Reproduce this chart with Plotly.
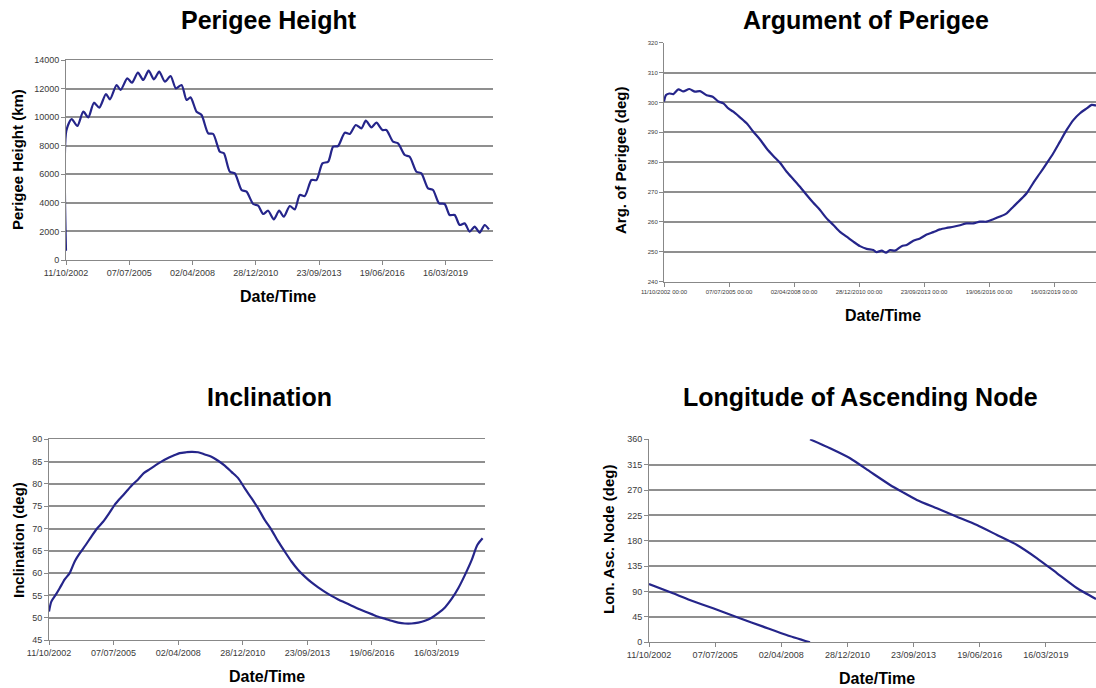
import pandas as pd
import plotly.graph_objects as go

BASE = "2002-10-11"  # day offsets below are counted from this date

# ---- Perigee Height (km) ----
ph_days = [0, 5, 90, 179, 274, 353, 442, 526, 632, 695, 800, 863, 969, 1042, 1137, 1221,
           1306, 1390, 1474, 1564, 1653, 1737, 1827, 1906, 1969, 2064, 2143, 2248, 2327,
           2432, 2496, 2590, 2669, 2775, 2854, 2959, 3038, 3117, 3196, 3285, 3370, 3443,
           3538, 3617, 3696, 3775, 3880, 3959, 4054, 4144, 4223, 4301, 4407, 4486, 4581,
           4670, 4739, 4828, 4907, 5002, 5065, 5170, 5249, 5355, 5433, 5539, 5618, 5723,
           5802, 5897, 5986, 6065, 6144, 6223, 6302, 6381, 6460, 6539, 6618, 6686]
ph_vals = [650, 9050, 9870, 9380, 10380, 9985, 11010, 10660, 11620, 11245, 12250, 11900,
           12715, 12410, 13110, 12600, 13250, 12645, 13180, 12480, 12880, 12015, 12250,
           11200, 11385, 10380, 10150, 8865, 8820, 7580, 7465, 6180, 6065, 4900, 4780,
           3920, 3800, 3220, 3450, 2845, 3450, 3030, 3780, 3545, 4550, 4480, 5600, 5600,
           6765, 6880, 7930, 7980, 8910, 8820, 9450, 9215, 9750, 9285, 9610, 9100, 9100,
           8280, 8165, 7350, 7230, 6180, 6065, 5015, 4900, 3965, 3920, 3150, 3150, 2450,
           2565, 1985, 2335, 1915, 2450, 2145]

# ---- Argument of Perigee (deg) ----
ap_days = [0, 31, 82, 144, 221, 297, 390, 477, 554, 656, 749, 836, 913, 990, 1067, 1169,
           1272, 1374, 1477, 1579, 1682, 1785, 1887, 1990, 2092, 2195, 2297, 2400, 2502,
           2605, 2708, 2810, 2913, 3015, 3118, 3220, 3272, 3349, 3415, 3477, 3554, 3656,
           3733, 3836, 3938, 4041, 4143, 4246, 4349, 4451, 4554, 4656, 4759, 4861, 4964,
           5066, 5169, 5272, 5374, 5477, 5579, 5682, 5784, 5887, 5989, 6092, 6195, 6297,
           6400, 6502, 6579, 6646, 6690]
ap_vals = [300.3, 302.5, 303.0, 302.8, 304.4, 303.7, 304.5, 303.6, 303.8, 302.4, 301.9,
           300.3, 299.7, 298.0, 296.9, 295.0, 293.0, 290.2, 287.6, 284.6, 282.1, 279.8,
           276.8, 274.3, 271.8, 269.0, 266.4, 264.0, 261.2, 259.0, 256.7, 255.1, 253.4,
           251.9, 251.0, 250.6, 249.9, 250.4, 249.7, 250.6, 250.4, 251.9, 252.3, 253.7,
           254.5, 255.8, 256.6, 257.5, 258.0, 258.4, 258.9, 259.5, 259.5, 260.1, 260.1,
           260.9, 261.8, 262.9, 265.1, 267.3, 269.6, 273.1, 276.3, 279.6, 283.0, 286.9,
           290.8, 294.1, 296.4, 298.0, 299.2, 299.0, 299.6]

# ---- Inclination (deg) ----
inc_days = [0, 36, 103, 165, 243, 320, 398, 475, 568, 656, 744, 837, 930, 1017, 1105, 1198,
            1291, 1379, 1467, 1560, 1652, 1740, 1828, 1921, 2024, 2128, 2205, 2308, 2412,
            2515, 2618, 2721, 2825, 2928, 3031, 3135, 3238, 3341, 3444, 3548, 3651, 3754,
            3858, 3961, 4064, 4167, 4271, 4374, 4477, 4580, 4684, 4787, 4890, 4994, 5097,
            5200, 5303, 5407, 5510, 5613, 5717, 5820, 5923, 6026, 6130, 6233, 6336, 6440,
            6543, 6631, 6713]
inc_vals = [51.4, 53.6, 55.1, 56.6, 58.6, 60.0, 62.6, 64.4, 66.3, 68.2, 70.0, 71.5, 73.4,
            75.3, 76.8, 78.3, 79.8, 81.0, 82.4, 83.3, 84.2, 85.0, 85.7, 86.3, 86.9, 87.1,
            87.2, 87.1, 86.6, 86.1, 85.2, 84.1, 82.7, 81.3, 79.0, 76.8, 74.5, 71.9, 69.7,
            67.1, 64.8, 62.6, 60.7, 59.2, 57.9, 56.8, 55.8, 54.9, 54.1, 53.4, 52.7, 52.0,
            51.4, 50.8, 50.2, 49.8, 49.3, 48.9, 48.7, 48.7, 48.9, 49.3, 50.0, 51.0, 52.3,
            54.2, 56.6, 59.6, 62.9, 66.3, 67.8]

# ---- Longitude of Ascending Node (deg), two segments (wraps 0 -> 360) ----
lan1_days = [0, 363, 616, 969, 1373, 1726, 2080, 2434]
lan1_vals = [103.4, 86.9, 75.0, 60.3, 42.6, 27.8, 13.0, 0.0]
lan2_days = [2434, 2737, 3040, 3342, 3645, 3847, 4049, 4352, 4655, 4958, 5261, 5564,
             5867, 6170, 6473, 6758]
lan2_vals = [360.0, 344.0, 326.3, 302.6, 279.0, 265.4, 252.4, 237.6, 222.8, 208.0, 190.3,
             172.6, 149.0, 122.4, 95.8, 76.8]

base = pd.Timestamp(BASE)


def to_dates(days):
    return base + pd.to_timedelta(days, unit="D")


def dend(n):
    return (base + pd.Timedelta(days=n)).strftime("%Y-%m-%d %H:%M")


LINE = dict(color="#25258a", width=2.2)
FONT = "Liberation Sans, Arial, sans-serif"
GRID = "#8f8f8f"

fig = go.Figure()
fig.add_trace(go.Scatter(x=to_dates(ph_days), y=ph_vals, mode="lines",
                         line=dict(shape="spline", smoothing=0.7, **LINE), xaxis="x", yaxis="y"))
fig.add_trace(go.Scatter(x=to_dates(ap_days), y=ap_vals, mode="lines",
                         line=dict(shape="spline", smoothing=0.7, **LINE), xaxis="x2", yaxis="y2"))
fig.add_trace(go.Scatter(x=to_dates(inc_days), y=inc_vals, mode="lines",
                         line=dict(shape="spline", smoothing=0.7, **LINE), xaxis="x3", yaxis="y3"))
fig.add_trace(go.Scatter(x=to_dates(lan1_days), y=lan1_vals, mode="lines",
                         line=dict(shape="spline", smoothing=0.5, **LINE), xaxis="x4", yaxis="y4"))
fig.add_trace(go.Scatter(x=to_dates(lan2_days), y=lan2_vals, mode="lines",
                         line=dict(shape="spline", smoothing=0.5, **LINE), xaxis="x4", yaxis="y4"))

W, H = 1096, 688


def px_x(p):
    return p / W


def px_y(p):
    return 1 - p / H


def xaxis(left, right, anchor, end_days, fmt, size, mirror):
    return dict(domain=[px_x(left), min(1.0, px_x(right))], anchor=anchor, type="date",
                range=[dend(0), dend(end_days)], tick0=BASE, dtick=1000 * 86400000,
                tickformat=fmt, tickfont=dict(family=FONT, size=size, color="#3a3a3a"),
                ticks="outside", ticklen=4, tickcolor="#888", showline=True,
                linecolor="#888", linewidth=1, mirror=mirror, showgrid=False,
                zeroline=False, tickangle=0, automargin=False)


def yaxis(top, bottom, anchor, rng, dt, size):
    return dict(domain=[px_y(bottom), px_y(top)], anchor=anchor, range=rng, dtick=dt,
                tick0=rng[0], tickformat="d", tickfont=dict(family=FONT, size=size, color="#3a3a3a"),
                ticks="outside", ticklen=4, tickcolor="#888", showline=True,
                linecolor="#888", linewidth=1, showgrid=True, gridcolor=GRID,
                gridwidth=1.5, zeroline=False, automargin=False)


fig.update_layout(
    width=W, height=H, autosize=False, margin=dict(l=0, r=0, t=0, b=0, autoexpand=False),
    paper_bgcolor="white", plot_bgcolor="white", showlegend=False,
    xaxis=xaxis(66, 493, "y", 6750, "%d/%m/%Y", 9, True),
    yaxis=yaxis(60, 260, "x", [0, 14000], 2000, 9),
    xaxis2=xaxis(664, 1096, "y2", 6646, "%d/%m/%Y %H:%M", 6, False),
    yaxis2=yaxis(42.7, 281.7, "x2", [240, 320], 10, 6),
    xaxis3=xaxis(49, 485, "y3", 6750, "%d/%m/%Y", 9, True),
    yaxis3=yaxis(439.3, 640, "x3", [45, 90], 5, 9),
    xaxis4=xaxis(649, 1096, "y4", 6758, "%d/%m/%Y", 9, False),
    yaxis4=yaxis(439.3, 642.3, "x4", [0, 360], 45, 9),
)

annotations = []


def text(x, y, s, size, angle=0):
    annotations.append(dict(x=px_x(x), y=px_y(y), xref="paper", yref="paper", text=f"<b>{s}</b>",
                            showarrow=False, textangle=angle, xanchor="center", yanchor="middle",
                            font=dict(family=FONT, size=size, color="black")))


text(269, 20, "Perigee Height", 25)
text(866, 20, "Argument of Perigee", 25)
text(269, 397, "Inclination", 25)
text(860, 397, "Longitude of Ascending Node", 25)
text(278, 296, "Date/Time", 16)
text(883, 315, "Date/Time", 16)
text(267, 676, "Date/Time", 16)
text(877, 678, "Date/Time", 16)
text(18, 160, "Perigee Height (km)", 15, -90)
text(621, 160, "Arg. of Perigee (deg)", 15, -90)
text(18, 540, "Inclination (deg)", 15, -90)
text(608, 540, "Lon. Asc. Node (deg)", 15, -90)
fig.update_layout(annotations=annotations)

fig.write_html("out.html", config={"responsive": False, "displayModeBar": False},
               post_script="document.body.style.margin='0';document.body.style.overflow='hidden';")
